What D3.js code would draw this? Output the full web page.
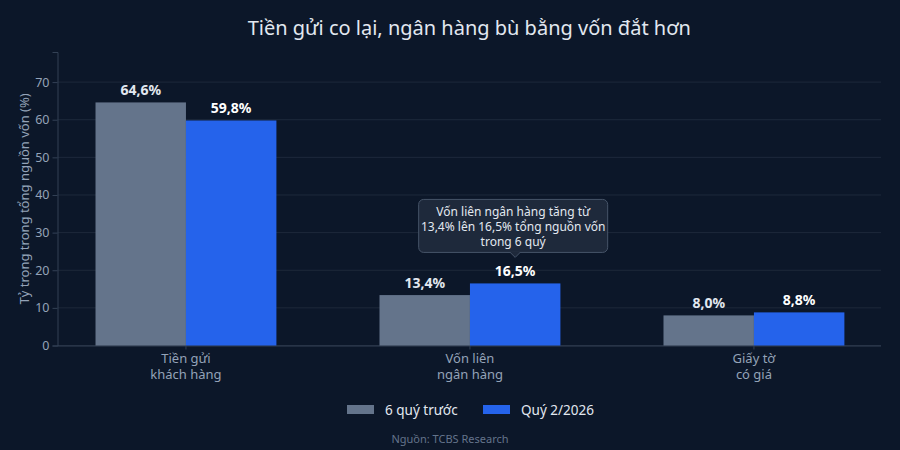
<!DOCTYPE html>
<html><head><meta charset="utf-8">
<script src="https://cdn.jsdelivr.net/npm/d3@7/dist/d3.min.js"></script>
<style>
html,body{margin:0;padding:0;background:#0c1729;}
svg{display:block;font-family:"Noto Sans","Open Sans",sans-serif;}
</style></head>
<body><svg id="c" width="900" height="450"></svg>
<script>
const categories = [["Tiền gửi","khách hàng"],["Vốn liên","ngân hàng"],["Giấy tờ","có giá"]];
const seriesNames = ["6 quý trước","Quý 2/2026"];
const prevValues = [64.6, 13.4, 8.0];
const currValues = [59.8, 16.5, 8.8];
const yTicks = [0,10,20,30,40,50,60,70];
const title = "Tiền gửi co lại, ngân hàng bù bằng vốn đắt hơn";
const yTitle = "Tỷ trọng trong tổng nguồn vốn (%)";
const note = ["Vốn liên ngân hàng tăng từ","13,4% lên 16,5% tổng nguồn vốn","trong 6 quý"];
const source = "Nguồn: TCBS Research";

const colors = ["#64748b","#2563eb"];
const svg = d3.select("#c");
const W = 900, H = 450;
const m = {l:57.5, r:881, t:52, b:345.5};
svg.append("rect").attr("width",W).attr("height",H).attr("fill","#0c1729");

const keys = categories.map((c,i)=>i);
const x = d3.scaleBand().domain(keys).range([56.6, 883.3]).paddingInner(0.363).paddingOuter(0.137);
const xs = d3.scaleBand().domain([0,1]).range([0, x.bandwidth()]);
const y = d3.scaleLinear().domain([0,78]).range([m.b, m.t]);

// grid
svg.append("g").selectAll("line").data(yTicks).join("line")
  .attr("x1",m.l).attr("x2",m.r).attr("y1",d=>y(d)).attr("y2",d=>y(d))
  .attr("stroke","#1e293b").attr("stroke-width",1);

// y axis
const ya = svg.append("g").attr("transform",`translate(${m.l},0)`)
  .call(d3.axisLeft(y).tickValues(yTicks).tickSize(5).tickPadding(3));
ya.select(".domain").attr("stroke","#334155");
ya.selectAll(".tick line").attr("stroke","#334155");
ya.selectAll(".tick text").attr("fill","#94a3b8").attr("font-size",12.5).attr("font-family","Noto Sans");

// x axis
const xa = svg.append("g").attr("transform",`translate(0,${m.b})`)
  .call(d3.axisBottom(x).tickSize(4).tickFormat(""));
xa.select(".domain").attr("stroke","#334155").attr("d",`M${m.l},0.5H${m.r}`);
xa.selectAll(".tick line").attr("stroke","#334155");
xa.selectAll(".tick").each(function(d){
  categories[d].forEach((s,i)=>d3.select(this).append("text").attr("fill","#94a3b8").attr("font-size",13)
    .attr("text-anchor","middle").attr("font-family","Noto Sans")
    .attr("x",0).attr("y",17+i*16).text(s));
});

// bars
const series = [prevValues, currValues];
series.forEach((vals,si)=>{
  svg.append("g").selectAll("rect").data(vals).join("rect")
    .attr("x",(d,i)=>x(i)+xs(si)).attr("width",xs.bandwidth())
    .attr("y",d=>y(d)).attr("height",d=>y(0)-y(d)).attr("fill",colors[si]);
  svg.append("g").selectAll("text").data(vals).join("text")
    .attr("x",(d,i)=>x(i)+xs(si)+xs.bandwidth()/2).attr("y",d=>y(d)-7)
    .attr("text-anchor","middle").attr("font-size",14).attr("font-weight",700)
    .attr("fill", si===0 ? "#e2e8f0" : "#ffffff")
    .text(d=>d.toFixed(1).replace(".",",")+"%");
});

// annotation
const ax = x(1)+xs(1)+xs.bandwidth()/2;
const ay = y(currValues[1]) - 26;
const bw = 189, bh = 53;
const g = svg.append("g");
g.append("rect").attr("x",ax-bw/2-2).attr("y",ay-bh-5).attr("width",bw).attr("height",bh).attr("rx",5)
  .attr("fill","#1e293b").attr("stroke","#475569").attr("stroke-width",1);
g.append("path").attr("d",`M${ax-5},${ay-5.5}L${ax},${ay}L${ax+5},${ay-5.5}Z`).attr("fill","#1e293b");
g.append("path").attr("d",`M${ax-5},${ay-5}L${ax},${ay}L${ax+5},${ay-5}`).attr("fill","none").attr("stroke","#475569");
note.forEach((s,i)=>g.append("text").attr("x",ax-2).attr("y",ay-bh+11.5+i*15)
  .attr("text-anchor","middle").attr("font-size",12).attr("fill","#e2e8f0").text(s));

// title
svg.append("text").attr("x",(m.l+m.r)/2).attr("y",35).attr("text-anchor","middle")
  .attr("font-size",20).attr("fill","#e2e8f0").text(title);

// y title
svg.append("text").attr("transform",`translate(29,${(m.t+m.b)/2}) rotate(-90)`)
  .attr("text-anchor","middle").attr("font-size",13).attr("fill","#94a3b8").text(yTitle);

// legend
const lg = svg.append("g");
const lx = [347, 483];
seriesNames.forEach((s,i)=>{
  lg.append("rect").attr("x",lx[i]).attr("y",405).attr("width",27).attr("height",9).attr("fill",colors[i]);
  lg.append("text").attr("x",lx[i]+38).attr("y",414.5).attr("font-size",13.5).attr("fill","#e2e8f0").text(s);
});

// source
svg.append("text").attr("x",450).attr("y",443).attr("text-anchor","middle")
  .attr("font-size",11).attr("fill","#64748b").text(source);
</script></body></html>
